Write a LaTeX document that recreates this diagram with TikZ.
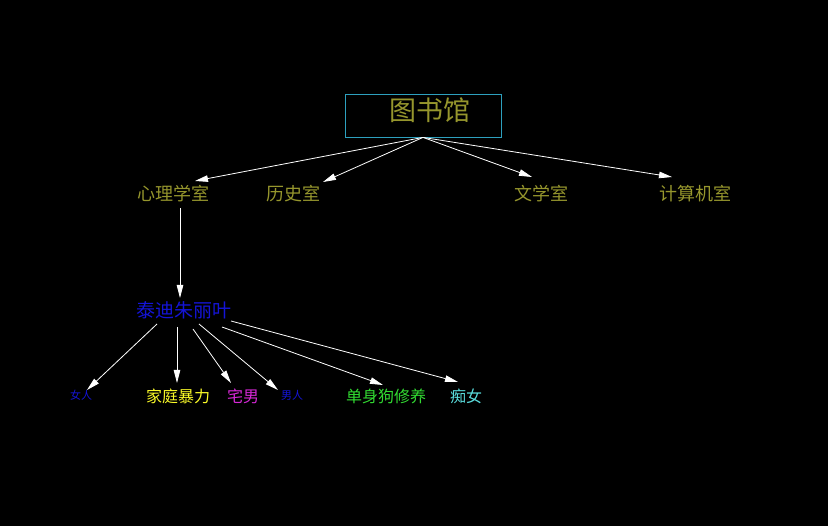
\documentclass[tikz,border=0pt]{standalone}
\usepackage{fontspec}
\newfontfamily\cjk{Noto Sans CJK SC}
\usetikzlibrary{arrows.meta,calc}
\definecolor{roomcol}{RGB}{150,150,45}
\definecolor{boxcol}{RGB}{45,160,190}
\definecolor{tedicol}{RGB}{20,20,215}
\definecolor{dvcol}{RGB}{250,250,40}
\definecolor{otakucol}{RGB}{215,40,215}
\definecolor{singlecol}{RGB}{50,220,50}
\definecolor{chicol}{RGB}{90,220,220}
\tikzset{
  every node/.style={inner sep=0pt},
  libbox/.style={draw=boxcol, line width=0.8pt, minimum width=156pt, minimum height=43pt},
  room/.style={text=roomcol, font=\cjk\fontsize{18}{18}\selectfont},
  big/.style={text=roomcol, font=\cjk\fontsize{27}{27}\selectfont},
  leaf/.style={font=\cjk\fontsize{16}{16}\selectfont},
  tiny/.style={text=tedicol, font=\cjk\fontsize{11}{11}\selectfont},
  arrow/.style={draw=white, line width=0.8pt, -{Triangle[length=13pt,width=6.5pt,fill=white]}}
}
\begin{document}
\begin{tikzpicture}[x=1pt,y=-1pt]
  \fill[black] (0,0) rectangle (828,526);
  \draw
    (423,115.5) node[libbox] (libbox){}
    (430,110) node[big] (lib){图书馆}
    (173,194) node[room] (psy){心理学室}
    (293,194) node[room] (hist){历史室}
    (541,194) node[room] (lit){文学室}
    (695,194) node[room] (comp){计算机室}
    (184,310) node[text=tedicol, font=\cjk\fontsize{19}{19}\selectfont] (tedi){泰迪朱丽叶}
    (81,395) node[tiny] (woman){女人}
    (178,396) node[leaf, text=dvcol] (dv){家庭暴力}
    (243,396) node[leaf, text=otakucol] (otaku){宅男}
    (292,395) node[tiny] (man){男人}
    (386,396) node[leaf, text=singlecol] (single){单身狗修养}
    (466,396) node[leaf, text=chicol] (chi){痴女};
  \begin{scope}[arrow]
    \draw (libbox.south) to ($(psy)+(22,-13)$);
    \draw (libbox.south) to ($(hist)+(30,-12)$);
    \draw (libbox.south) to ($(lit)+(-9,-17)$);
    \draw (libbox.south) to ($(comp)+(-23,-17)$);
    \draw ($(psy)+(7,14)$) to ($(tedi)+(-4,-12)$);
    \draw ($(tedi)+(-27,14)$) to ($(woman)+(6,-5)$);
    \draw ($(tedi)+(-7,17)$) to ($(dv)+(-1,-13)$);
    \draw ($(tedi)+(9,19)$) to ($(otaku)+(-12,-13)$);
    \draw ($(tedi)+(15,14)$) to ($(man)+(-14,-5)$);
    \draw ($(tedi)+(38,17)$) to ($(single)+(-3,-11)$);
    \draw ($(tedi)+(47,11)$) to ($(chi)+(-8,-14)$);
  \end{scope}
\end{tikzpicture}
\end{document}
